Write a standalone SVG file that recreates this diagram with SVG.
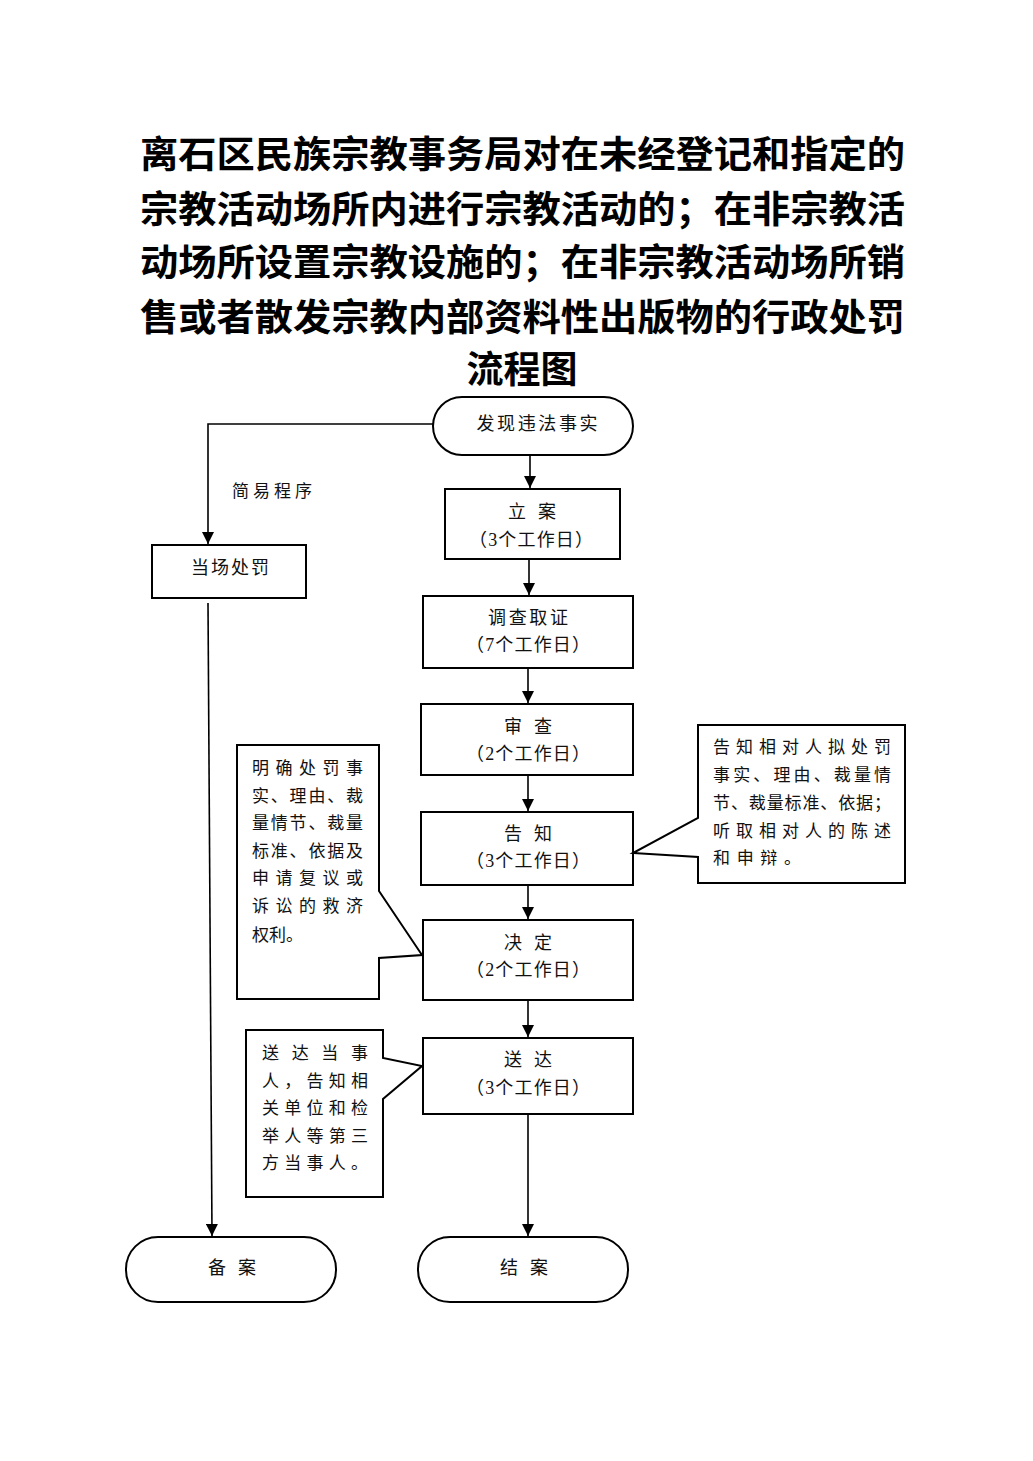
<svg xmlns="http://www.w3.org/2000/svg" width="1033" height="1461" viewBox="0 0 1033 1461">
<style>
.bg{fill:#fff}
.title{font-family:"Liberation Serif","Noto Sans CJK SC",serif;font-size:37px;font-weight:bold;fill:#000}
.box{fill:#fff;stroke:#000;stroke-width:2}
.t{font-family:"Liberation Serif","Noto Sans CJK SC",serif;font-size:18px;fill:#111;text-anchor:middle;dominant-baseline:central}
.c{font-family:"Liberation Serif","Noto Sans CJK SC",serif;font-size:17px;fill:#111;dominant-baseline:central}
.line{fill:none;stroke:#000;stroke-width:1.6}
</style>
<defs>
<marker id="ah" markerWidth="12" markerHeight="12" refX="10" refY="5" orient="auto" markerUnits="userSpaceOnUse" viewBox="0 0 10 10">
<path d="M0,0 L10,5 L0,10 z" fill="#000"/>
</marker>
</defs>
<rect class="bg" x="0" y="0" width="1033" height="1461"/>
<g id="title">
<text class="title" x="140" y="155" dominant-baseline="central" textLength="765" lengthAdjust="spacingAndGlyphs">离石区民族宗教事务局对在未经登记和指定的</text>
<text class="title" x="140" y="210" dominant-baseline="central" textLength="765" lengthAdjust="spacingAndGlyphs">宗教活动场所内进行宗教活动的；在非宗教活</text>
<text class="title" x="140" y="263" dominant-baseline="central" textLength="765" lengthAdjust="spacingAndGlyphs">动场所设置宗教设施的；在非宗教活动场所销</text>
<text class="title" x="140" y="318" dominant-baseline="central" textLength="765" lengthAdjust="spacingAndGlyphs">售或者散发宗教内部资料性出版物的行政处罚</text>
<text class="title" x="522" y="370" dominant-baseline="central" text-anchor="middle">流程图</text>
</g>
<g id="connectors">
<path class="line" d="M433,424 L208,424 L208,544" marker-end="url(#ah)"/>
<text class="c" x="232" y="491" textLength="80" lengthAdjust="spacing">简易程序</text>
<path class="line" d="M208,603 L212,1236" marker-end="url(#ah)"/>
<path class="line" d="M530,455 L530,488" marker-end="url(#ah)"/>
<path class="line" d="M529,559 L529,595" marker-end="url(#ah)"/>
<path class="line" d="M528,668 L528,703" marker-end="url(#ah)"/>
<path class="line" d="M528,775 L528,811" marker-end="url(#ah)"/>
<path class="line" d="M528,885 L528,919" marker-end="url(#ah)"/>
<path class="line" d="M528,1000 L528,1037" marker-end="url(#ah)"/>
<path class="line" d="M528,1114 L528,1236" marker-end="url(#ah)"/>
</g>
<g id="n-start">
<rect class="box" x="433" y="397" width="200" height="58" rx="29" ry="29"/>
<text class="t" x="537" y="424" textLength="121" lengthAdjust="spacing">发现违法事实</text>
</g>
<g id="n-onsite">
<rect class="box" x="152" y="545" width="154" height="53"/>
<text class="t" x="230" y="568" textLength="78" lengthAdjust="spacing">当场处罚</text>
</g>
<g id="n-lian">
<rect class="box" x="445" y="489" width="175" height="70"/>
<text class="t" x="517 547" y="512">立案</text>
<text class="t" x="531" y="540" textLength="124" lengthAdjust="spacing">（3个工作日）</text>
</g>
<g id="n-diaocha">
<rect class="box" x="423" y="596" width="210" height="72"/>
<text class="t" x="528" y="618" textLength="80" lengthAdjust="spacing">调查取证</text>
<text class="t" x="528" y="645" textLength="124" lengthAdjust="spacing">（7个工作日）</text>
</g>
<g id="n-shencha">
<rect class="box" x="421" y="704" width="212" height="71"/>
<text class="t" x="513 543" y="727">审查</text>
<text class="t" x="528" y="754" textLength="124" lengthAdjust="spacing">（2个工作日）</text>
</g>
<g id="n-gaozhi">
<rect class="box" x="421" y="812" width="212" height="73"/>
<text class="t" x="513 543" y="834">告知</text>
<text class="t" x="528" y="861" textLength="124" lengthAdjust="spacing">（3个工作日）</text>
</g>
<g id="n-jueding">
<rect class="box" x="423" y="920" width="210" height="80"/>
<text class="t" x="513 543" y="943">决定</text>
<text class="t" x="528" y="970" textLength="124" lengthAdjust="spacing">（2个工作日）</text>
</g>
<g id="n-songda">
<rect class="box" x="423" y="1038" width="210" height="76"/>
<text class="t" x="513 543" y="1060">送达</text>
<text class="t" x="528" y="1088" textLength="124" lengthAdjust="spacing">（3个工作日）</text>
</g>
<g id="n-beian">
<rect class="box" x="126" y="1237" width="210" height="65" rx="32" ry="32"/>
<text class="t" x="217 247" y="1268">备案</text>
</g>
<g id="n-jiean">
<rect class="box" x="418" y="1237" width="210" height="65" rx="32" ry="32"/>
<text class="t" x="509 539" y="1268">结案</text>
</g>
<g id="note-left">
<path class="box" d="M237,745 L379,745 L379,891 L422,955 L379,958 L379,999 L237,999 Z"/>
<text class="c" x="252" y="768" textLength="111" lengthAdjust="spacing">明确处罚事</text>
<text class="c" x="252" y="796" textLength="111" lengthAdjust="spacing">实、理由、裁</text>
<text class="c" x="252" y="823" textLength="111" lengthAdjust="spacing">量情节、裁量</text>
<text class="c" x="252" y="851" textLength="111" lengthAdjust="spacing">标准、依据及</text>
<text class="c" x="252" y="878" textLength="111" lengthAdjust="spacing">申请复议或</text>
<text class="c" x="252" y="906" textLength="111" lengthAdjust="spacing">诉讼的救济</text>
<text class="c" x="252" y="935" textLength="51" lengthAdjust="spacing">权利。</text>
</g>
<g id="note-right">
<path class="box" d="M698,725 L905,725 L905,883 L698,883 L698,857 L633,853 L698,818 Z"/>
<text class="c" x="713" y="747" textLength="178" lengthAdjust="spacing">告知相对人拟处罚</text>
<text class="c" x="713" y="775" textLength="178" lengthAdjust="spacing">事实、理由、裁量情</text>
<text class="c" x="713" y="803" textLength="178" lengthAdjust="spacing">节、裁量标准、依据；</text>
<text class="c" x="713" y="831" textLength="178" lengthAdjust="spacing">听取相对人的陈述</text>
<text class="c" x="713" y="858" textLength="88" lengthAdjust="spacing">和申辩。</text>
</g>
<g id="note-bottom">
<path class="box" d="M246,1030 L383,1030 L383,1058 L422,1066 L383,1099 L383,1197 L246,1197 Z"/>
<text class="c" x="262" y="1053" textLength="106" lengthAdjust="spacing">送达当事</text>
<text class="c" x="262" y="1081" textLength="106" lengthAdjust="spacing">人，告知相</text>
<text class="c" x="262" y="1108" textLength="106" lengthAdjust="spacing">关单位和检</text>
<text class="c" x="262" y="1136" textLength="106" lengthAdjust="spacing">举人等第三</text>
<text class="c" x="262" y="1163" textLength="106" lengthAdjust="spacing">方当事人。</text>
</g>
</svg>
